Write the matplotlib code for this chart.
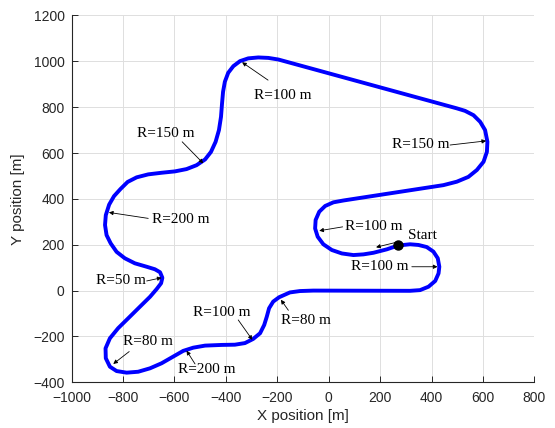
import numpy as np
import matplotlib.pyplot as plt

# ---- track centreline (m) ----
track_x = [270, 226, 174, 135, 96, 51, 12, -21, -43, -53, -51, -37, -14, 18,
           57, 446, 498, 543, 576, 602, 615, 617, 608, 589, 563, 530, 498,
           -196, -235, -274, -313, -345, -371, -391, -404, -411, -415, -419,
           -427, -440, -458, -481, -514, -553, -598, -650, -702, -747, -782,
           -810, -835, -854, -867, -870, -864, -848, -825, -793, -754, -708,
           -676, -656, -647, -652, -669, -695, -734, -780, -819, -851, -868,
           -867, -851, -825, -786, -741, -695, -650, -605, -566, -527, -481,
           -416, -365, -326, -294, -267, -251, -241, -232, -216, -193, -151,
           -112, -60, 316, 355, 388, 414, 427, 430, 424, 407, 381, 349, 316,
           290, 270]
track_y = [197, 180, 165, 158, 155, 162, 177, 202, 235, 271, 308, 344, 369, 385,
           393, 460, 475, 496, 526, 562, 605, 649, 700, 736, 765, 784, 795,
           1008, 1015, 1017, 1013, 1001, 979, 950, 911, 867, 816, 758,
           700, 649, 605, 572, 547, 530, 520, 514, 507, 494, 474,
           443, 412, 375, 329, 286, 242, 206, 169, 141, 119, 104,
           93, 80, 56, 32, 7, -27, -70, -121, -164, -208, -252,
           -295, -332, -351, -358, -354, -339, -317, -288, -263, -249, -240,
           -237, -236, -229, -211, -186, -150, -114, -77, -48, -29, -8,
           -2, 0, -1, 2, 17, 42, 75, 104, 141, 170, 190, 199, 202,
           199, 197]

start_xy = (270, 197)

# ---- annotations: label, text anchor (left, middle), arrow tail, arrow tip ----
labels = ["R=100 m", "R=150 m", "R=150 m", "R=200 m", "R=50 m", "R=80 m",
          "R=200 m", "R=100 m", "R=80 m", "R=100 m", "Start", "R=100 m"]
text_xy = [(-290, 850), (-746, 686), (245, 639), (-686, 308), (-905, 43),
           (-799, -220), (-588, -346), (-529, -95), (-185, -130), (63, 278),
           (310, 239), (87, 107)]
tail_xy = [(-236, 918), (-570, 649), (472, 635), (-702, 315), (-708, 42),
           (-776, -266), (-520, -320), (-352, -128), (-157, -86), (54, 278),
           (271, 213), (323, 104)]
tip_xy = [(-337, 996), (-488, 555), (612, 653), (-855, 341), (-650, 56),
          (-838, -320), (-553, -262), (-297, -215), (-186, -40), (-37, 261),
          (184, 189), (423, 104)]

fig = plt.figure(figsize=(5.55, 4.28), dpi=100)
ax = fig.add_axes([0.129, 0.1068, 0.834, 0.857])

ax.plot(track_x, track_y, color=(0, 0, 1), lw=2.8, solid_joinstyle="round", zorder=3)
ax.plot(*start_xy, "o", color="k", ms=6.5, zorder=4)

for lab, t, a, b in zip(labels, text_xy, tail_xy, tip_xy):
    ax.text(t[0], t[1], lab, family="Liberation Serif", fontsize=11,
            ha="left", va="center", zorder=5)
    ax.annotate("", xy=b, xytext=a,
                arrowprops=dict(arrowstyle="-|>", color="k", lw=0.6,
                                mutation_scale=6, shrinkA=0, shrinkB=0),
                zorder=5)

# ---- cosmetics (MATLAB-like) ----
ax.set_xlim(-1000, 800)
ax.set_ylim(-400, 1200)
ax.set_xticks(np.arange(-1000, 801, 200))
ax.set_yticks(np.arange(-400, 1201, 200))
ax.grid(True, color="#dedede", lw=0.7)
ax.set_axisbelow(True)
for s in ["top", "right"]:
    ax.spines[s].set_visible(False)
for s in ["left", "bottom"]:
    ax.spines[s].set_color("#262626")
    ax.spines[s].set_linewidth(0.8)
ax.tick_params(direction="in", length=4, width=0.7, color="#262626",
               labelcolor="#262626", labelsize=10)
ax.tick_params(axis="x", pad=6)
ax.tick_params(axis="y", pad=5)
for lbl in ax.get_xticklabels() + ax.get_yticklabels():
    lbl.set_family("Liberation Sans")

ax.set_xlabel("X position [m]", fontsize=11, color="#262626",
              family="Liberation Sans", labelpad=3)
ax.set_ylabel("Y position [m]", fontsize=11, color="#262626",
              family="Liberation Sans", labelpad=6)

plt.savefig("out.png", dpi=100)
